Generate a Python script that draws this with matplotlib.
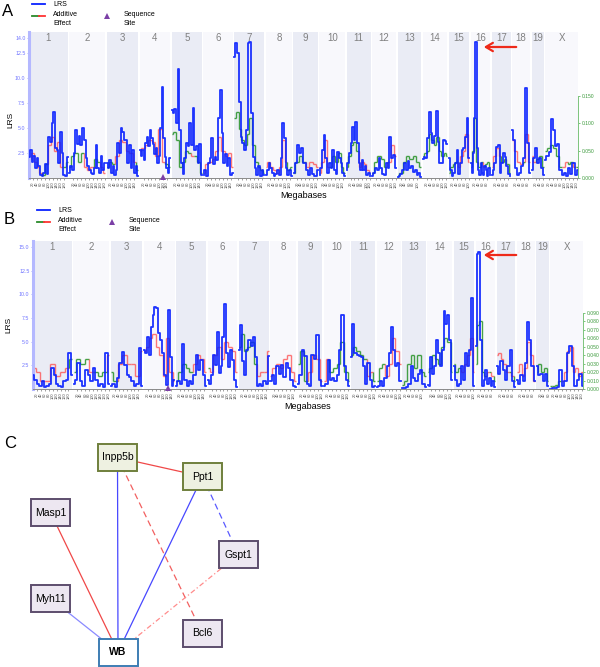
import numpy as np
import matplotlib
matplotlib.use('Agg')
import matplotlib.pyplot as plt
from matplotlib.collections import LineCollection
from matplotlib.patches import Rectangle

plt.rcParams['font.family'] = ['Liberation Sans', 'DejaVu Sans']

# ---- данные ----
chrom_names = ['1', '2', '3', '4', '5', '6', '7', '8', '9', '10',
               '11', '12', '13', '14', '15', '16', '17', '18', '19', 'X']
chrom_len = [197.2, 181.7, 159.6, 155.6, 152.5, 149.5, 152.5, 131.7, 124.1, 130.0,
             121.8, 121.3, 120.3, 125.2, 103.5, 98.3, 95.3, 90.8, 61.3, 166.7]

# LRS по хромосомам, панель A
lrs_a = [
    [2.1, 2.8, 1.6, 2.2, 1.0, 2.0, 1.2, 0.3, 0.2, 0.5, 1.4, 0.4, 4.1, 3.6, 5.5, 6.6, 3.0, 2.8, 1.5, 4.6, 2.5, 0.3, 0.2, 2.1],
    [0.5, 1.2, 0.8, 2.5, 4.8, 3.4, 4.2, 3.3, 5.0, 3.8, 2.0, 1.2, 0.8, 0.5, 0.4, 1.0, 3.3, 1.0, 0.5, 2.2, 0.8, 1.5],
    [1.5, 1.0, 1.8, 0.5, 1.2, 0.3, 0.8, 3.5, 2.5, 5.0, 4.6, 3.8, 3.8, 1.5, 3.3, 1.0, 2.8, 0.5, 1.2, 0.2],
    [2.8, 2.2, 2.8, 1.8, 3.5, 4.1, 3.2, 4.8, 4.0, 3.4, 2.4, 3.0, 1.5, 2.2, 5.0, 9.1, 4.0, 2.1, 1.0, 0.5, 2.0],
    [6.8, 6.5, 6.9, 5.5, 10.9, 4.8, 1.5, 0.4, 2.0, 3.5, 3.2, 5.5, 3.3, 7.0, 2.8, 3.2, 1.5, 3.4, 0.3],
    [0.3, 0.8, 0.2, 1.5, 2.0, 4.0, 1.4, 2.1, 1.8, 6.0, 8.8, 4.5, 1.5, 2.4, 1.2, 2.0, 0.3, 0.5],
    [12.1, 13.5, 12.5, 7.6, 4.1, 3.5, 2.8, 4.8, 13.5, 13.6, 6.5, 2.1, 1.0, 0.3, 1.2, 0.2, 0.8, 0.3],
    [0.3, 0.8, 1.5, 1.0, 0.5, 0.2, 0.4, 0.8, 0.3, 2.0, 5.5, 4.0, 1.0, 0.3, 0.8, 0.2],
    [0.5, 1.5, 3.3, 2.5, 3.0, 1.5, 0.8, 0.3, 1.0, 0.4, 0.2, 0.8],
    [0.3, 1.0, 2.8, 4.3, 2.0, 0.5, 1.5, 1.0, 2.8, 0.8, 0.4, 2.6, 2.0, 1.5, 0.5, 0.2],
    [0.8, 1.5, 2.5, 3.5, 5.1, 3.8, 5.6, 3.5, 1.5, 0.8, 1.8, 0.8, 1.2, 0.3, 0.5, 0.2],
    [0.2, 0.5, 1.0, 0.8, 2.0, 1.0, 0.4, 0.3, 1.5, 1.0, 4.1, 2.0, 2.3, 1.0],
    [0.1, 0.2, 0.4, 0.8, 1.5, 0.8, 1.7, 1.0, 1.2, 0.6, 0.8, 0.3, 0.5, 0.1],
    [1.9, 2.1, 2.0, 4.0, 6.6, 4.5, 3.5, 4.2, 6.7, 3.6, 1.5, 1.5, 3.8, 3.7, 3.4],
    [2.0, 0.8, 0.2, 0.5, 1.5, 2.8, 0.4, 1.5, 2.8, 3.0, 4.1, 6.0, 2.0],
    [1.5, 0.5, 2.5, 6.0, 13.6, 3.0, 0.8, 0.3, 1.5, 0.5, 0.3, 1.2, 0.8, 0.2, 1.0, 0.3],
    [0.3, 0.8, 1.5, 3.1, 3.3, 0.5, 1.5, 2.5, 2.1, 1.2, 0.4, 0.2],
    [4.8, 3.8, 1.0, 0.3, 0.5, 1.2, 2.0, 9.0, 3.5, 0.5],
    [0.8, 2.0, 3.0, 1.5, 2.0, 1.0, 0.3],
    [1.8, 2.2, 2.6, 5.9, 4.8, 3.2, 3.4, 0.8, 0.3, 0.5, 0.2, 1.0, 0.4, 1.5, 0.3, 0.8],
]

# аддитивный эффект, панель A (>0 зелёный, <0 красный)
add_a = [
    [-0.035, -0.045, -0.03, -0.02, -0.01, 0.005, 0.025, -0.06, -0.075, -0.05, -0.065, -0.02, 0.02, 0.03],
    [0.02, 0.04, 0.045, 0.03, 0.045, -0.02, -0.015, -0.02, 0.035, 0.03, -0.02, -0.01],
    [0.02, 0.03, 0.025, -0.04, -0.07, -0.065, -0.05, -0.045, -0.03, 0.015],
    [-0.05, -0.055, -0.06, -0.07, -0.065, -0.04, -0.09, -0.03, 0.025, 0.02],
    [0.08, 0.085, 0.07, 0.02, 0.03, 0.05, 0.045, -0.04, 0.04, 0.03, 0.01],
    [-0.01, -0.025, -0.03, -0.035, -0.05, -0.075, -0.05, -0.04, -0.045, -0.02],
    [0.11, 0.12, 0.09, 0.07, 0.06, 0.08, 0.11, 0.06, 0.03, 0.02, 0.015, 0.01],
    [-0.02, -0.03, -0.02, -0.015, -0.01, -0.02, -0.07, -0.03, 0.015, 0.02],
    [0.01, 0.03, 0.04, 0.03, -0.02, -0.03, -0.025, -0.02],
    [-0.01, -0.03, -0.07, -0.02, 0.02, 0.04, 0.03, 0.045, 0.02, 0.01],
    [0.02, 0.04, 0.06, 0.065, 0.05, -0.02, -0.03, -0.025, -0.015, -0.01],
    [0.01, 0.03, 0.04, 0.035, 0.02, -0.03, -0.06, -0.04],
    [0.005, 0.01, 0.03, 0.04, 0.035, 0.04, 0.03, 0.02],
    [0.04, 0.045, 0.05, 0.08, 0.07, 0.06, 0.075, 0.05, 0.04, 0.045, 0.04],
    [0.01, 0.02, 0.025, 0.03, -0.02, -0.04, -0.05, -0.08, -0.03],
    [0.02, 0.05, 0.11, 0.03, 0.02, 0.03, -0.02, 0.025, 0.03, 0.02],
    [-0.02, -0.04, -0.055, -0.04, 0.03, 0.035, 0.025, 0.01],
    [-0.07, -0.05, -0.03, -0.025, 0.03, -0.08, -0.03],
    [-0.04, -0.03, 0.035, 0.04, 0.02],
    [0.05, 0.055, 0.06, 0.055, 0.04, 0.02, -0.02, -0.03, 0.025, 0.03, -0.02, 0.02],
]

# LRS, панель B
lrs_b = [
    [1.5, 1.0, 0.5, 0.3, 0.8, 0.2, 0.3, 0.5, 2.2, 1.5, 0.5, 0.3, 0.2, 0.8, 1.0, 3.8, 1.5],
    [0.5, 1.0, 2.7, 0.8, 0.3, 2.0, 1.5, 0.8, 2.2, 1.0, 0.3, 0.5, 0.2, 3.8, 0.5],
    [0.3, 0.5, 0.2, 1.2, 2.7, 3.9, 2.5, 1.5, 1.3, 0.8, 0.3, 0.5, 4.3, 0.3],
    [4.1, 3.8, 5.5, 3.6, 6.6, 7.8, 8.7, 8.6, 5.9, 5.2, 3.8, 1.5, 0.4, 8.3, 3.4, 0.3, 1.0],
    [0.3, 0.8, 0.5, 4.8, 1.0, 0.3, 0.8, 0.5, 1.5, 3.6, 2.0, 3.1, 1.5, 0.3],
    [1.0, 0.5, 1.5, 3.6, 2.5, 6.0, 1.7, 2.4, 5.5, 9.0, 3.8, 2.3, 4.1, 3.1, 1.0, 0.2],
    [4.1, 6.8, 3.0, 1.5, 4.1, 5.2, 4.5, 5.5, 3.4, 0.3, 0.5, 0.3, 0.8, 0.5, 3.5],
    [0.8, 1.5, 0.5, 2.4, 1.6, 2.5, 1.3, 2.7, 2.2, 1.0, 0.3, 0.2],
    [0.5, 1.5, 4.1, 3.5, 0.5, 0.3, 3.6, 3.2, 5.7, 1.0, 0.3],
    [0.3, 0.5, 3.1, 1.0, 1.2, 0.8, 1.5, 4.1, 7.8, 2.4, 1.0, 0.3],
    [3.4, 6.9, 3.8, 3.6, 3.5, 3.4, 2.4, 0.5, 2.7, 1.0, 0.2, 0.3],
    [0.2, 0.3, 0.8, 0.3, 1.2, 2.4, 3.8, 6.5, 4.1, 2.4, 2.7, 0.8],
    [0.1, 0.1, 0.2, 0.5, 2.4, 1.2, 0.8, 1.6, 2.0, 0.5, 0.2],
    [0.4, 0.3, 3.4, 1.6, 2.4, 5.2, 3.8, 2.4, 4.1, 8.2, 6.9, 7.8, 5.2, 1.0],
    [2.4, 1.0, 0.3, 0.5, 2.4, 1.0, 3.8, 2.4, 4.1, 9.6, 0.3],
    [4.5, 14.3, 14.5, 5.2, 0.3, 1.0, 2.0, 0.5, 1.2, 0.3, 0.8, 0.2],
    [2.4, 1.6, 3.0, 2.0, 1.0, 2.4, 4.1, 0.8, 0.2],
    [1.0, 0.5, 1.5, 0.8, 2.7, 7.1, 5.2, 2.4, 0.8],
    [2.4, 1.5, 1.6, 0.8, 1.6, 0.3],
    [0.05, 0.1, 0.1, 0.2, 2.0, 0.3, 0.8, 3.8, 4.5, 2.4, 0.3, 1.0, 1.6, 0.3],
]

# аддитивный эффект, панель B
add_b = [
    [-0.025, -0.02, -0.01, -0.01, -0.03, -0.015, -0.02, -0.025, 0.035],
    [0.02, 0.035, 0.03, 0.035, -0.02, 0.02, 0.015, 0.02, -0.04],
    [0.02, 0.01, -0.03, -0.04, -0.03, -0.03, -0.015, -0.045],
    [-0.045, -0.05, -0.06, -0.065, -0.05, -0.04, -0.015, -0.06, -0.02, -0.01],
    [0.01, 0.02, 0.03, 0.025, 0.02, -0.03, -0.04, -0.035, -0.02],
    [0.025, -0.02, -0.04, -0.05, -0.035, -0.055, -0.05, -0.045, -0.02],
    [0.05, 0.065, 0.045, 0.05, 0.055, 0.03, -0.015, -0.02, -0.02, -0.045],
    [-0.015, -0.025, -0.03, -0.025, -0.035, -0.04, -0.02, -0.01],
    [0.03, 0.045, 0.01, -0.02, -0.04, -0.035, -0.01],
    [-0.01, -0.035, 0.02, 0.025, 0.03, 0.055, 0.02, 0.01],
    [0.04, 0.05, 0.045, 0.04, 0.035, -0.015, -0.02, 0.01],
    [0.01, 0.025, 0.03, -0.015, -0.03, -0.06, -0.045, -0.03],
    [0.005, 0.01, 0.03, 0.04, 0.025, 0.04, 0.02, 0.015],
    [0.02, 0.025, 0.04, 0.035, 0.03, 0.05, 0.06, 0.055, 0.02],
    [0.03, 0.02, 0.025, -0.02, -0.03, -0.04, -0.06, -0.02],
    [0.03, 0.075, 0.08, 0.02, 0.015, -0.02, 0.02, -0.015, 0.01],
    [-0.04, -0.042, -0.035, -0.03, -0.02, 0.02, -0.015, 0.01],
    [-0.02, -0.03, -0.015, -0.025, -0.055, -0.04, -0.01],
    [0.02, 0.03, 0.02, 0.025, 0.01],
    [0.003, 0.003, 0.005, 0.01, -0.01, -0.02, -0.045, -0.05, -0.02, -0.025, -0.015, -0.02],
]

lrs_ticks_a = [2.5, 5.0, 7.5, 10.0, 12.5, 14.0]
add_ticks_a = [0.0, 0.05, 0.10, 0.15]
lrs_ticks_b = [2.5, 5.0, 7.5, 10.0, 12.5, 15.0]
add_ticks_b = [0.0, 0.01, 0.02, 0.03, 0.04, 0.05, 0.06, 0.07, 0.08, 0.09]

seq_site_chr = '4'
seq_site_mb = 121.0

# сеть корреляций
net_nodes = ['Inpp5b', 'Ppt1', 'Masp1', 'Gspt1', 'Myh11', 'Bcl6', 'WB']
net_kind = {'Inpp5b': 'cis', 'Ppt1': 'cis', 'Masp1': 'gene', 'Gspt1': 'gene',
            'Myh11': 'gene', 'Bcl6': 'gene', 'WB': 'trait'}
net_edges = [
    ('Inpp5b', 'Ppt1', 'pos', 'solid'),
    ('Inpp5b', 'WB', 'neg', 'solid'),
    ('Inpp5b', 'Bcl6', 'pos', 'dashed'),
    ('Ppt1', 'WB', 'neg', 'solid'),
    ('Ppt1', 'Gspt1', 'neg', 'dashed'),
    ('Masp1', 'WB', 'pos', 'solid'),
    ('Myh11', 'WB', 'neg', 'light'),
    ('Gspt1', 'WB', 'pos', 'dashdot'),
]

# ---- раскладка ----
GAP = 8.0
chrom_start = []
p = 0.0
for L in chrom_len:
    chrom_start.append(p)
    p += L + GAP
genome_end = p - GAP

BAND = ['#eaecf5', '#f8f8fc']
ADD_POS = (0.10, 0.55, 0.10, 0.8)
ADD_NEG = (1.00, 0.25, 0.25, 0.7)


def draw_qtl(fig, rect, lrs, add, lrs_top, lrs_ticks, add_top, add_ticks, ylab_xy):
    ax = fig.add_axes(rect)
    ax2 = ax.twinx()
    ax.set_zorder(ax2.get_zorder() + 1)
    ax.patch.set_visible(False)
    ax2.patch.set_visible(True)
    ax2.patch.set_facecolor('white')

    for i, (s, L) in enumerate(zip(chrom_start, chrom_len)):
        ax2.axvspan(s, s + L, color=BAND[i % 2], lw=0, zorder=0)
        ax.text(s + L / 2, 0.99, chrom_names[i], transform=ax.get_xaxis_transform(),
                ha='center', va='top', fontsize=7, color='#808080')

        # аддитивный эффект ступеньками
        av = np.array(add[i])
        xa = np.linspace(s + 0.5, s + L - 0.5, len(av))
        mids = np.concatenate([[xa[0]], (xa[:-1] + xa[1:]) / 2, [xa[-1]]])
        segs, cols = [], []
        for j, v in enumerate(av):
            segs.append([(mids[j], abs(v)), (mids[j + 1], abs(v))])
            cols.append(ADD_POS if v >= 0 else ADD_NEG)
            if j + 1 < len(av):
                segs.append([(mids[j + 1], abs(v)), (mids[j + 1], abs(av[j + 1]))])
                cols.append(ADD_POS if av[j + 1] >= 0 else ADD_NEG)
        ax2.add_collection(LineCollection(segs, colors=cols, linewidths=1.0, zorder=2))

        xs = np.linspace(s + 0.5, s + L - 0.5, len(lrs[i]))
        ax.plot(xs, lrs[i], drawstyle='steps-mid', color='#0a22ff', lw=1.3,
                alpha=0.92, zorder=3)

    ci = chrom_names.index(seq_site_chr)
    ax.plot(chrom_start[ci] + seq_site_mb, 0.15, marker='^', ms=4, color='#7b3fa6',
            clip_on=False, zorder=6, markeredgewidth=0)

    ax.set_xlim(0, genome_end)
    ax.set_ylim(0, lrs_top)
    ax.set_yticks(lrs_ticks)
    ax.set_yticklabels([f'{t:.1f}' for t in lrs_ticks])
    ax.tick_params(axis='y', labelsize=3.8, labelcolor='#6f74ff', color='#9fa4ff',
                   length=1.5, width=0.6, pad=1)
    ax2.set_ylim(0, add_top)
    ax2.set_yticks(add_ticks)
    ax2.set_yticklabels([f'{t:.3f}' for t in add_ticks])
    ax2.tick_params(axis='y', labelsize=3.6, labelcolor='#3c9a3c', color='#66bb66',
                    length=1.5, width=0.6, pad=1)

    for sp in ['top', 'right']:
        ax.spines[sp].set_visible(False)
    for sp in ['top', 'left', 'bottom']:
        ax2.spines[sp].set_visible(False)
    ax.spines['left'].set_color('#b4b8ff')
    ax.spines['left'].set_linewidth(2.2)
    ax.spines['bottom'].set_color('#8a8a8a')
    ax.spines['bottom'].set_linewidth(0.7)
    ax2.spines['right'].set_color('#7cc47c')
    ax2.spines['right'].set_linewidth(0.7)
    ax2.spines['right'].set_bounds(0, add_ticks[-1])

    ticks, labels = [], []
    for s, L in zip(chrom_start, chrom_len):
        for mb in range(20, int(L), 20):
            ticks.append(s + mb)
            labels.append(str(mb))
    ax.set_xticks(ticks)
    ax.set_xticklabels(labels, rotation=90, fontsize=2.9, color='#505050')
    ax.tick_params(axis='x', length=1.5, width=0.5, color='#777777', pad=0.8)
    ax.set_xlabel('Megabases', fontsize=6.5, labelpad=2)

    ax.set_ylabel('LRS', fontsize=6)
    ax.yaxis.set_label_coords(*ylab_xy)
    return ax


def draw_legend(ax, x0, y0):
    ax.plot([x0, x0 + 13], [y0, y0], color='#0a22ff', lw=1.3)
    ax.text(x0 + 21, y0, 'LRS', fontsize=5, va='center')
    ax.plot([x0, x0 + 6.5], [y0 + 12, y0 + 12], color='#2a8a2a', lw=1.3)
    ax.plot([x0 + 6.5, x0 + 13], [y0 + 12, y0 + 12], color='#ff3333', lw=1.3)
    ax.text(x0 + 21, y0 + 15, 'Additive\nEffect', fontsize=5, va='center', linespacing=1.3)
    ax.plot(x0 + 75, y0 + 12, marker='^', ms=5, color='#7b3fa6', markeredgewidth=0)
    ax.text(x0 + 92, y0 + 15, 'Sequence\nSite', fontsize=5, va='center', linespacing=1.3)


fig = plt.figure(figsize=(6.0, 6.67), dpi=100)

draw_qtl(fig, [29 / 600, 489 / 667, 549 / 600, 146 / 667], lrs_a, add_a,
         14.6, lrs_ticks_a, 0.267, add_ticks_a, (-0.026, 0.40))
draw_qtl(fig, [33 / 600, 278 / 667, 550 / 600, 148 / 667], lrs_b, add_b,
         15.63, lrs_ticks_b, 0.1746, add_ticks_b, (-0.037, 0.43))

# верхний слой в пикселях: подписи панелей, легенды, стрелки, сеть
top = fig.add_axes([0, 0, 1, 1], zorder=10)
top.set_xlim(0, 600)
top.set_ylim(667, 0)
top.axis('off')
top.patch.set_visible(False)

top.text(2, 12, 'A', fontsize=12, va='center')
top.text(4, 219, 'B', fontsize=12, va='center')
top.text(4, 444, 'C', fontsize=12, va='center')

draw_legend(top, 32, 4)
draw_legend(top, 37, 210)

for ya in (47, 255):
    top.annotate('', xy=(481, ya), xytext=(519, ya),
                 arrowprops=dict(arrowstyle='->,head_length=0.5,head_width=0.3',
                                 color='#ee2a1a', lw=1.6))

node_pos = {'Inpp5b': (117.5, 457.5), 'Ppt1': (202.5, 476.5), 'Masp1': (50.5, 512.5),
            'Gspt1': (238.5, 554.5), 'Myh11': (50.5, 598.5), 'Bcl6': (202.5, 633.5),
            'WB': (118, 652)}
box_style = {'cis': ('#eef1e1', '#6f7f3c'), 'gene': ('#ede7f1', '#5d4d6d'),
             'trait': ('#ffffff', '#3e7db3')}
edge_col = {('pos', 'solid'): ('#f04848', '-'), ('pos', 'dashed'): ('#f26060', (0, (5, 3))),
            ('pos', 'dashdot'): ('#ff8c8c', (0, (4, 2, 1, 2))),
            ('neg', 'solid'): ('#4848ff', '-'), ('neg', 'dashed'): ('#5a5aff', (0, (5, 3))),
            ('neg', 'light'): ('#8a8aff', '-')}

for a, b, sign, style in net_edges:
    (xa, ya), (xb, yb) = node_pos[a], node_pos[b]
    c, ls = edge_col[(sign, style)]
    top.plot([xa, xb], [ya, yb], color=c, ls=ls, lw=0.9, zorder=1)

bw, bh = 39, 27
for name in net_nodes:
    cx, cy = node_pos[name]
    fc, ec = box_style[net_kind[name]]
    top.add_patch(Rectangle((cx - bw / 2, cy - bh / 2), bw, bh, facecolor=fc,
                            edgecolor=ec, lw=1.4, zorder=2))
    top.text(cx, cy, name, ha='center', va='center', fontsize=7.5, zorder=3,
             fontweight='bold' if net_kind[name] == 'trait' else 'normal')

fig.savefig('out.png', dpi=100)
